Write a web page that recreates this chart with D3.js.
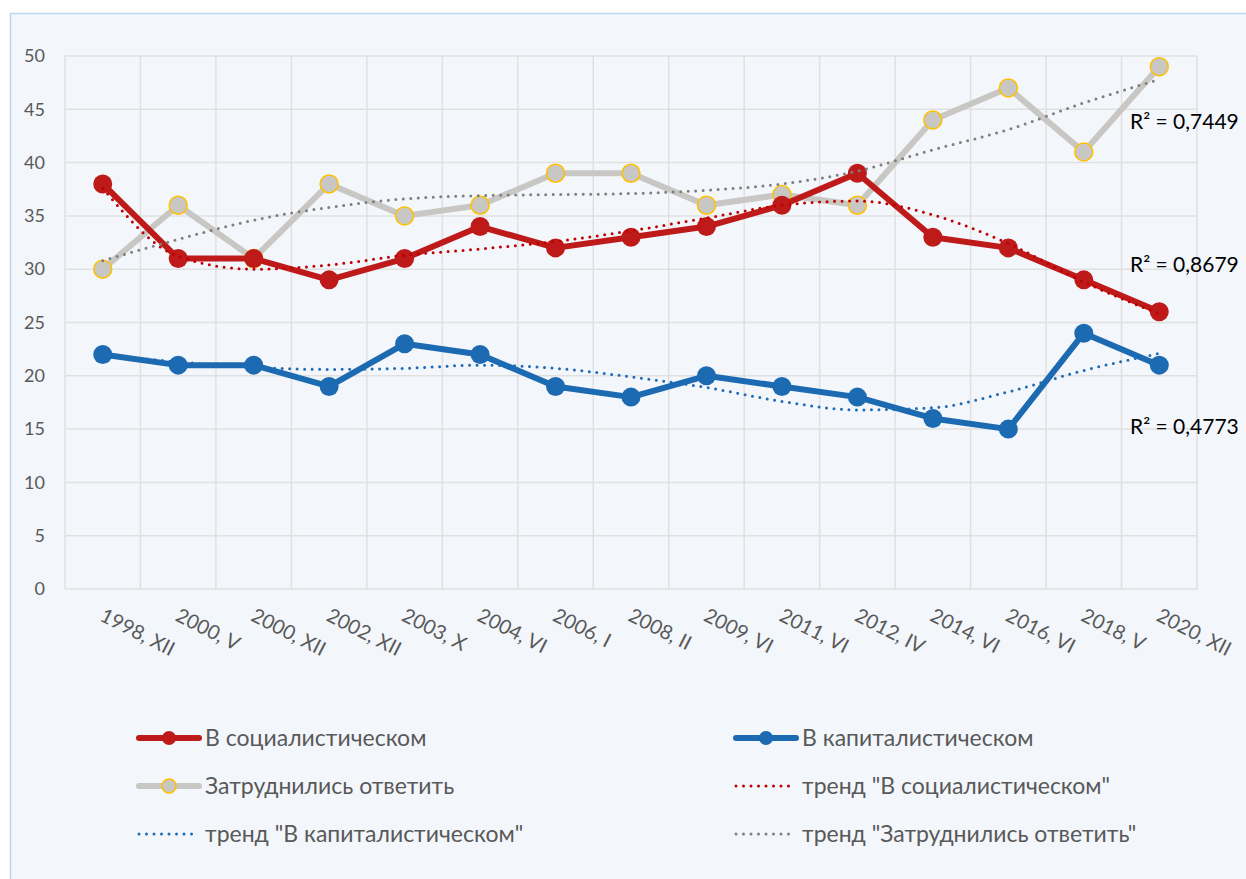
<!DOCTYPE html>
<html>
<head>
<meta charset="utf-8">
<script src="https://cdn.jsdelivr.net/npm/d3@7"></script>
<style>
  body { margin: 0; background: #fff; }
  svg { display: block; font-family: Lato, "Open Sans", sans-serif; }
</style>
</head>
<body>
<div id="chart"></div>
<script>
// categories (survey waves)
const waves = ["1998, XII", "2000, V", "2000, XII", "2002, XII", "2003, X", "2004, VI", "2006, I", "2008, II",
  "2009, VI", "2011, VI", "2012, IV", "2014, VI", "2016, VI", "2018, V", "2020, XII"];

// series values
const socialist  = [38, 31, 31, 29, 31, 34, 32, 33, 34, 36, 39, 33, 32, 29, 26];
const capitalist = [22, 21, 21, 19, 23, 22, 19, 18, 20, 19, 18, 16, 15, 24, 21];
const undecided  = [30, 36, 31, 38, 35, 36, 39, 39, 36, 37, 36, 44, 47, 41, 49];

// trend lines
const trendSocialist  = [37.6, 31.2, 30.0, 30.4, 31.3, 31.9, 32.6, 33.6, 34.8, 36.0, 36.4, 35.1, 32.4, 28.8, 25.8];
const trendCapitalist = [22.0, 21.3, 20.8, 20.6, 20.7, 21.0, 20.7, 19.9, 18.9, 17.6, 16.8, 17.0, 18.5, 20.5, 22.1];
const trendUndecided  = [30.8, 32.8, 34.6, 35.8, 36.6, 36.9, 37.0, 37.1, 37.4, 38.0, 39.2, 41.2, 43.1, 45.6, 47.8];

const rSquared = ["R² = 0,8679", "R² = 0,4773", "R² = 0,7449"];
const yTicks = [0, 5, 10, 15, 20, 25, 30, 35, 40, 45, 50];

const W = 1246, H = 879;
const margin = { top: 56, right: 49, bottom: 290, left: 65 };
const width = W - margin.left - margin.right,
      height = H - margin.top - margin.bottom;

const svg = d3.select("#chart").append("svg")
  .attr("width", W)
  .attr("height", H);

// chart area
svg.append("rect")
  .attr("x", 10.5).attr("y", 13.5)
  .attr("width", W).attr("height", H)
  .attr("fill", "#F3F6FB")
  .attr("stroke", "#BDD7EE")
  .attr("stroke-width", 1.5);

const g = svg.append("g")
  .attr("transform", "translate(" + margin.left + "," + margin.top + ")");

const x = d3.scaleBand().domain(waves).range([0, width]);
const cx = d => x(d) + x.bandwidth() / 2;
const y = d3.scaleLinear().domain([0, 50]).range([height, 0]);

// grid
g.append("g").selectAll("line")
  .data(yTicks)
  .join("line")
  .attr("x1", 0).attr("x2", width)
  .attr("y1", d => y(d)).attr("y2", d => y(d))
  .attr("stroke", "#E0E0E0").attr("stroke-width", 1.5);

g.append("g").selectAll("line")
  .data(waves.map(w => x(w)).concat([width]))
  .join("line")
  .attr("x1", d => d).attr("x2", d => d)
  .attr("y1", 0).attr("y2", height)
  .attr("stroke", "#E0E0E0").attr("stroke-width", 1.5);

// y axis
const yAxis = g.append("g")
  .call(d3.axisLeft(y).tickValues(yTicks).tickSize(0).tickPadding(20));
yAxis.select(".domain").remove();
yAxis.selectAll(".tick text")
  .attr("fill", "#595959")
  .attr("font-size", 18)
  .attr("font-family", "Lato");

// x labels, rotated
g.append("g").selectAll("text")
  .data(waves)
  .join("text")
  .attr("transform", d => "translate(" + (cx(d) - 4) + "," + (height + 31) + ") rotate(27)")
  .attr("fill", "#595959")
  .attr("font-size", 20)
  .text(d => d);

const line = d3.line().x((d, i) => cx(waves[i])).y(d => y(d));
const trend = d3.line().x((d, i) => cx(waves[i])).y(d => y(d)).curve(d3.curveMonotoneX);

// trend lines
function drawTrend(vals, color) {
  g.append("path")
    .datum(vals)
    .attr("d", trend)
    .attr("fill", "none")
    .attr("stroke", color)
    .attr("stroke-width", 3)
    .attr("stroke-linecap", "round")
    .attr("stroke-dasharray", "0 7.5");
}

function drawSeries(vals, color, r, edge) {
  g.append("path")
    .datum(vals)
    .attr("d", line)
    .attr("fill", "none")
    .attr("stroke", color)
    .attr("stroke-width", 6)
    .attr("stroke-linejoin", "round");
  g.append("g").selectAll("circle")
    .data(vals)
    .join("circle")
    .attr("cx", (d, i) => cx(waves[i]))
    .attr("cy", d => y(d))
    .attr("r", r)
    .attr("fill", color)
    .attr("stroke", edge || "none")
    .attr("stroke-width", edge ? 1.5 : 0);
}

drawSeries(undecided, "#C9C7C4", 9, "#FFC000");
drawSeries(socialist, "#BE1A1A", 9.5);
drawSeries(capitalist, "#1C6AB1", 9.5);
drawTrend(trendUndecided, "#7F7F7F");
drawTrend(trendSocialist, "#C00000");
drawTrend(trendCapitalist, "#1F6BB5");

// R² labels
g.append("g").selectAll("text")
  .data(rSquared)
  .join("text")
  .attr("x", 1130 - margin.left)
  .attr("y", (d, i) => [272, 434, 129][i] - margin.top)
  .attr("fill", "#000")
  .attr("font-size", 21)
  .text(d => d);

// legend
const legendItems = [
  { name: "В социалистическом", color: "#BE1A1A", kind: "line" },
  { name: "В капиталистическом", color: "#1C6AB1", kind: "line" },
  { name: "Затруднились ответить", color: "#C9C7C4", kind: "line", edge: "#FFC000" },
  { name: "тренд \"В социалистическом\"", color: "#C00000", kind: "dot" },
  { name: "тренд \"В капиталистическом\"", color: "#1F6BB5", kind: "dot" },
  { name: "тренд \"Затруднились ответить\"", color: "#7F7F7F", kind: "dot" }
];
const legX = [137, 734], legY = [738, 786, 834];

const leg = svg.append("g").selectAll("g")
  .data(legendItems)
  .join("g")
  .attr("transform", (d, i) => "translate(" + legX[i % 2] + "," + legY[Math.floor(i / 2)] + ")");

leg.append("line")
  .attr("x1", 2).attr("x2", d => d.kind === "line" ? 62 : 61)
  .attr("y1", 0).attr("y2", 0)
  .attr("stroke", d => d.color)
  .attr("stroke-width", d => d.kind === "line" ? 6 : 3)
  .attr("stroke-linecap", "round")
  .attr("stroke-dasharray", d => d.kind === "line" ? null : "0 7.5");

leg.filter(d => d.kind === "line").append("circle")
  .attr("cx", 32).attr("cy", 0).attr("r", 7)
  .attr("fill", d => d.color)
  .attr("stroke", d => d.edge || "none")
  .attr("stroke-width", 1.5);

leg.append("text")
  .attr("x", 68).attr("y", 0)
  .attr("dy", "0.35em")
  .attr("fill", "#595959")
  .attr("font-size", 23)
  .text(d => d.name);
</script>
</body>
</html>
